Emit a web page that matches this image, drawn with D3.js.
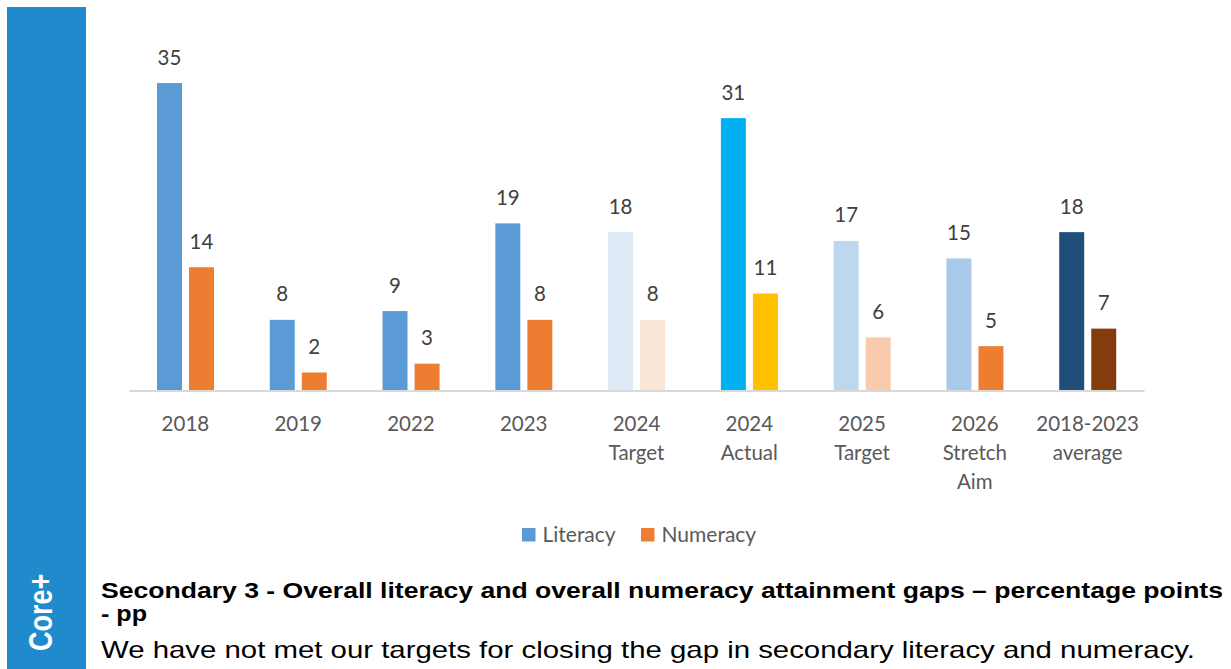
<!DOCTYPE html>
<html>
<head>
<meta charset="utf-8">
<script src="https://cdn.jsdelivr.net/npm/d3@7/dist/d3.min.js"></script>
<style>
  html, body { margin: 0; padding: 0; background: #ffffff; }
  svg { display: block; }
</style>
</head>
<body>
<svg id="chart" width="1231" height="669"></svg>
<script>
// Attainment gaps (percentage points) by year / milestone
const categories = [
  "2018", "2019", "2022", "2023", "2024 Target", "2024 Actual",
  "2025 Target", "2026 Stretch Aim", "2018-2023 average"
];
const categoryLines = [
  ["2018"], ["2019"], ["2022"], ["2023"], ["2024", "Target"], ["2024", "Actual"],
  ["2025", "Target"], ["2026", "Stretch", "Aim"], ["2018-2023", "average"]
];
const seriesNames = ["Literacy", "Numeracy"];
const literacy = [35, 8, 9, 19, 18, 31, 17, 15, 18];
const numeracy = [14, 2, 3, 8, 8, 11, 6, 5, 7];

// Fill colours per category for each series
const literacyFill = {
  "2018": "#5b9bd5", "2019": "#5b9bd5", "2022": "#5b9bd5", "2023": "#5b9bd5",
  "2024 Target": "#deebf7", "2024 Actual": "#00b0f0", "2025 Target": "#bdd7ee",
  "2026 Stretch Aim": "#a9caeb", "2018-2023 average": "#1f4e79"
};
const numeracyFill = {
  "2018": "#ed7d31", "2019": "#ed7d31", "2022": "#ed7d31", "2023": "#ed7d31",
  "2024 Target": "#fbe5d6", "2024 Actual": "#ffc000", "2025 Target": "#f8cbad",
  "2026 Stretch Aim": "#ed7d31", "2018-2023 average": "#843c0c"
};
const legendFill = { "Literacy": "#5b9bd5", "Numeracy": "#ed7d31" };

const svg = d3.select("#chart");
const chartFont = "Lato, 'Open Sans', sans-serif";
const textFont = "'Liberation Sans', Arial, sans-serif";

// Side banner
svg.append("rect")
  .attr("x", 7).attr("y", 7).attr("width", 79).attr("height", 662)
  .attr("fill", "#1f8bcc");
svg.append("text")
  .attr("transform", "translate(52,651) scale(1.25,1) rotate(-90)")
  .attr("font-family", textFont).attr("font-weight", "bold")
  .attr("font-size", 27).attr("fill", "#ffffff")
  .text("Core+");

// Scales
const x0 = d3.scaleBand().domain(categories).range([129, 1144]).padding(0);
const x1 = d3.scaleBand().domain(seriesNames).range([28, 85]).paddingInner(0.22).paddingOuter(0);
const y = d3.scaleLinear().domain([0, 40]).range([390, 39.2]);

const rows = categories.map((c, i) => ({
  category: c,
  values: [
    { series: "Literacy", value: literacy[i], fill: literacyFill[c] },
    { series: "Numeracy", value: numeracy[i], fill: numeracyFill[c] }
  ]
}));

const groups = svg.append("g").selectAll("g")
  .data(rows).join("g")
  .attr("transform", d => `translate(${x0(d.category)},0)`);

groups.selectAll("rect")
  .data(d => d.values).join("rect")
  .attr("x", d => x1(d.series))
  .attr("y", d => y(d.value))
  .attr("width", x1.bandwidth())
  .attr("height", d => y(0) - y(d.value))
  .attr("fill", d => d.fill);

groups.selectAll("text.value")
  .data(d => d.values).join("text")
  .attr("class", "value")
  .attr("x", d => x1(d.series) + x1.bandwidth() / 2)
  .attr("y", d => y(d.value) - 18.5)
  .attr("text-anchor", "middle")
  .attr("font-family", chartFont).attr("font-size", 20.5)
  .attr("fill", "#404040")
  .text(d => d.value);

// Category axis
const axis = svg.append("g")
  .attr("transform", "translate(0,390.5)")
  .call(d3.axisBottom(x0).tickSize(0).tickSizeOuter(0));
axis.select(".domain").attr("stroke", "#d9d9d9").attr("stroke-width", 2);
axis.selectAll(".tick text").each(function(d) {
  const t = d3.select(this);
  t.text(null).attr("y", 0).attr("dy", null)
    .attr("font-family", chartFont).attr("font-size", 20.5)
    .attr("fill", "#595959");
  categoryLines[categories.indexOf(d)].forEach((line, i) => {
    t.append("tspan").attr("x", 0).attr("y", 40.5 + i * 29).text(line);
  });
});

// Legend
const legendItems = [
  { name: "Literacy", x: 522 },
  { name: "Numeracy", x: 641 }
];
const legend = svg.append("g").selectAll("g")
  .data(legendItems).join("g")
  .attr("transform", d => `translate(${d.x},528)`);
legend.append("rect")
  .attr("width", 13.5).attr("height", 13.5)
  .attr("fill", d => legendFill[d.name]);
legend.append("text")
  .attr("x", 20.5).attr("y", 14)
  .attr("font-family", chartFont).attr("font-size", 21)
  .attr("fill", "#595959")
  .text(d => d.name);

// Caption
svg.append("text")
  .attr("x", 101).attr("y", 598)
  .attr("font-family", textFont).attr("font-weight", "bold").attr("font-size", 22.5)
  .attr("textLength", 1122).attr("lengthAdjust", "spacingAndGlyphs")
  .attr("fill", "#000000")
  .text("Secondary 3 - Overall literacy and overall numeracy attainment gaps \u2013 percentage points");
svg.append("text")
  .attr("x", 101).attr("y", 621)
  .attr("font-family", textFont).attr("font-weight", "bold").attr("font-size", 22.5)
  .attr("textLength", 46).attr("lengthAdjust", "spacingAndGlyphs")
  .attr("fill", "#000000")
  .text("- pp");
svg.append("text")
  .attr("x", 101).attr("y", 658)
  .attr("font-family", textFont).attr("font-size", 24)
  .attr("textLength", 1094).attr("lengthAdjust", "spacingAndGlyphs")
  .attr("fill", "#000000")
  .text("We have not met our targets for closing the gap in secondary literacy and numeracy.");
</script>
</body>
</html>
